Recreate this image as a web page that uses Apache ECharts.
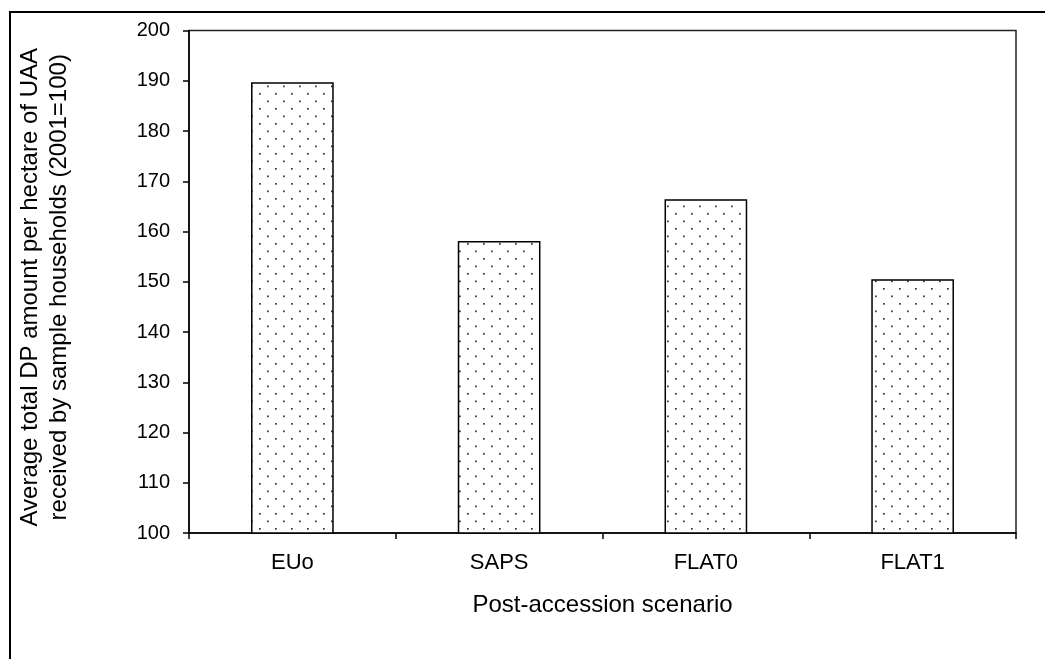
<!DOCTYPE html>
<html>
<head>
<meta charset="utf-8">
<script src="https://cdn.jsdelivr.net/npm/echarts@6/dist/echarts.min.js"></script>
<style>
html,body{margin:0;padding:0;background:#fff;}
#chart{width:1045px;height:659px;}
</style>
</head>
<body>
<div id="chart"></div>
<script>
const categories = ['EUo', 'SAPS', 'FLAT0', 'FLAT1'];
const values = [189.7, 158.1, 166.4, 150.5];
const yTicks = { min: 100, max: 200, interval: 10 };
const xTitle = 'Post-accession scenario';
const yTitle = 'Average total DP amount per hectare of UAA\nreceived by sample households (2001=100)';

// dotted fill pattern
const tile = document.createElement('canvas');
tile.width = 16; tile.height = 15;
const tctx = tile.getContext('2d');
tctx.fillStyle = '#fff';
tctx.fillRect(0, 0, 16, 15);
tctx.fillStyle = '#333';
tctx.fillRect(3, 3, 1.7, 1.7);
tctx.fillRect(11, 10.5, 1.7, 1.7);

const FONT = '"Liberation Sans", Arial, Helvetica, sans-serif';
const chart = echarts.init(document.getElementById('chart'), null, { renderer: 'canvas' });
chart.setOption({
  animation: false,
  backgroundColor: '#fff',
  textStyle: { fontFamily: FONT, color: '#000' },
  grid: {
    left: 189, top: 30.5, right: 29, bottom: 126,
    show: true, borderColor: '#222', borderWidth: 1.5, backgroundColor: 'transparent'
  },
  graphic: [{
    type: 'rect', silent: true,
    shape: { x: 10, y: 12, width: 1100, height: 700 },
    style: { fill: 'none', stroke: '#000', lineWidth: 2 }
  }],
  xAxis: {
    type: 'category',
    data: categories,
    name: xTitle,
    nameLocation: 'middle',
    nameGap: 60,
    nameTextStyle: { fontSize: 24, color: '#000', fontFamily: FONT },
    axisLine: { lineStyle: { color: '#000', width: 1.5 } },
    axisTick: { show: true, length: 6, lineStyle: { color: '#000', width: 1.5 } },
    axisLabel: { fontSize: 22, color: '#000', margin: 19, fontFamily: FONT },
    splitLine: { show: false }
  },
  yAxis: {
    type: 'value',
    min: yTicks.min, max: yTicks.max, interval: yTicks.interval,
    name: yTitle,
    nameLocation: 'middle',
    nameRotate: 90,
    nameGap: 115,
    nameTextStyle: { fontSize: 24, lineHeight: 29, color: '#000', fontFamily: FONT, padding: [0, 11, 0, 0] },
    axisLine: { show: true, lineStyle: { color: '#000', width: 1.5 } },
    axisTick: { show: true, length: 6, lineStyle: { color: '#000', width: 1.5 } },
    axisLabel: { fontSize: 20, color: '#000', margin: 19, fontFamily: FONT },
    splitLine: { show: false }
  },
  series: [{
    type: 'bar',
    data: values,
    barWidth: '40%',
    itemStyle: {
      color: { image: tile, repeat: 'repeat' },
      borderColor: '#000',
      borderWidth: 1.5
    }
  }]
});
</script>
</body>
</html>
